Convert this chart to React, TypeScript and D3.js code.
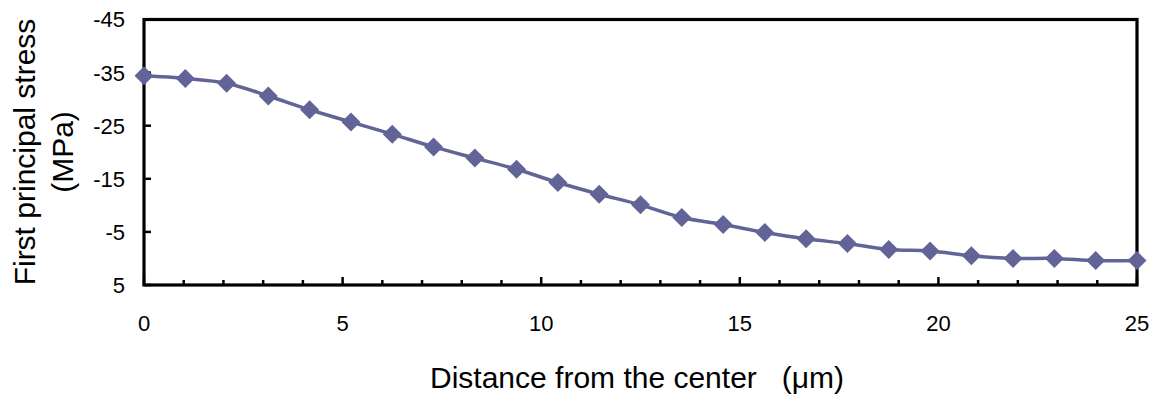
import React from "react";
import * as d3 from "d3";

// Radial distance from the center (μm) at each sampled node
const distances = [
  0, 1.04, 2.08, 3.13, 4.17, 5.21, 6.25, 7.29, 8.33, 9.38, 10.42, 11.46, 12.5,
  13.54, 14.58, 15.63, 16.67, 17.71, 18.75, 19.79, 20.83, 21.88, 22.92, 23.96, 25,
];

// First principal stress (MPa) at each node
const stresses = [
  -34.4, -33.9, -33.0, -30.6, -28.0, -25.7, -23.4, -21.0, -18.9, -16.8, -14.3,
  -12.1, -10.1, -7.7, -6.4, -4.9, -3.7, -2.8, -1.7, -1.4, -0.5, 0.0, 0.0, 0.4, 0.4,
];

const yTicks = [-45, -35, -25, -15, -5, 5];
const xMajorTicks = [0, 5, 10, 15, 20, 25];
const xMinorTicks = d3.range(0, 26, 1);

const W = 1158;
const H = 394;
const plot = { left: 144, right: 1137, top: 19.5, bottom: 285 };
const seriesColor = "#626497";
const font = "'Liberation Sans', Arial, sans-serif";

export default function App() {
  const x = d3.scaleLinear().domain([0, 25]).range([plot.left, plot.right]);
  const y = d3.scaleLinear().domain([-45, 5]).range([plot.top, plot.bottom]);

  const points = distances.map((d, i) => [d, stresses[i]] as [number, number]);
  const line = d3
    .line<[number, number]>()
    .x((p) => x(p[0]))
    .y((p) => y(p[1]))
    .curve(d3.curveCatmullRom.alpha(0));

  // diamond marker: a square rotated by 45°, 19px across its diagonal
  const diamond = d3.symbol(d3.symbolSquare, (19 * 19) / 2)();

  return (
    <svg
      width={W}
      height={H}
      style={{ position: "absolute", left: 0, top: 0, background: "#fff" }}
      fontFamily={font}
    >
      <rect x={0} y={0} width={W} height={H} fill="#fff" />

      {/* y tick marks and labels */}
      {yTicks.map((t) => (
        <g key={`y${t}`}>
          <line x1={plot.left} x2={plot.left + 7} y1={y(t)} y2={y(t)} stroke="#000" strokeWidth={2.5} />
          <text x={125} y={y(t)} dy="0.36em" textAnchor="end" fontSize={22} fill="#000">
            {t}
          </text>
        </g>
      ))}

      {/* x tick marks */}
      {xMinorTicks.map((t) => (
        <line
          key={`xm${t}`}
          x1={x(t)}
          x2={x(t)}
          y1={plot.bottom}
          y2={plot.bottom - (t % 5 === 0 ? 8 : 5)}
          stroke="#000"
          strokeWidth={2.5}
        />
      ))}
      {xMajorTicks.map((t) => (
        <text key={`xl${t}`} x={x(t)} y={331} textAnchor="middle" fontSize={22} fill="#000">
          {t}
        </text>
      ))}

      {/* plot frame */}
      <rect
        x={plot.left}
        y={plot.top}
        width={plot.right - plot.left}
        height={plot.bottom - plot.top}
        fill="none"
        stroke="#000"
        strokeWidth={3.2}
      />

      {/* series */}
      <path d={line(points) ?? ""} fill="none" stroke={seriesColor} strokeWidth={3.5} />
      {points.map((p, i) => (
        <path
          key={`m${i}`}
          d={diamond ?? ""}
          transform={`translate(${x(p[0])},${y(p[1])}) rotate(45)`}
          fill={seriesColor}
        />
      ))}

      {/* axis titles */}
      <text x={430} y={388} fontSize={30} fill="#000">
        Distance from the center{"\u00a0\u00a0\u00a0"}(μm)
      </text>
      <g transform="translate(35,152) rotate(-90)">
        <text x={0} y={0} textAnchor="middle" fontSize={30} fill="#000">
          First principal stress
        </text>
        <text x={0} y={38} textAnchor="middle" fontSize={30} fill="#000">
          (MPa)
        </text>
      </g>
    </svg>
  );
}
